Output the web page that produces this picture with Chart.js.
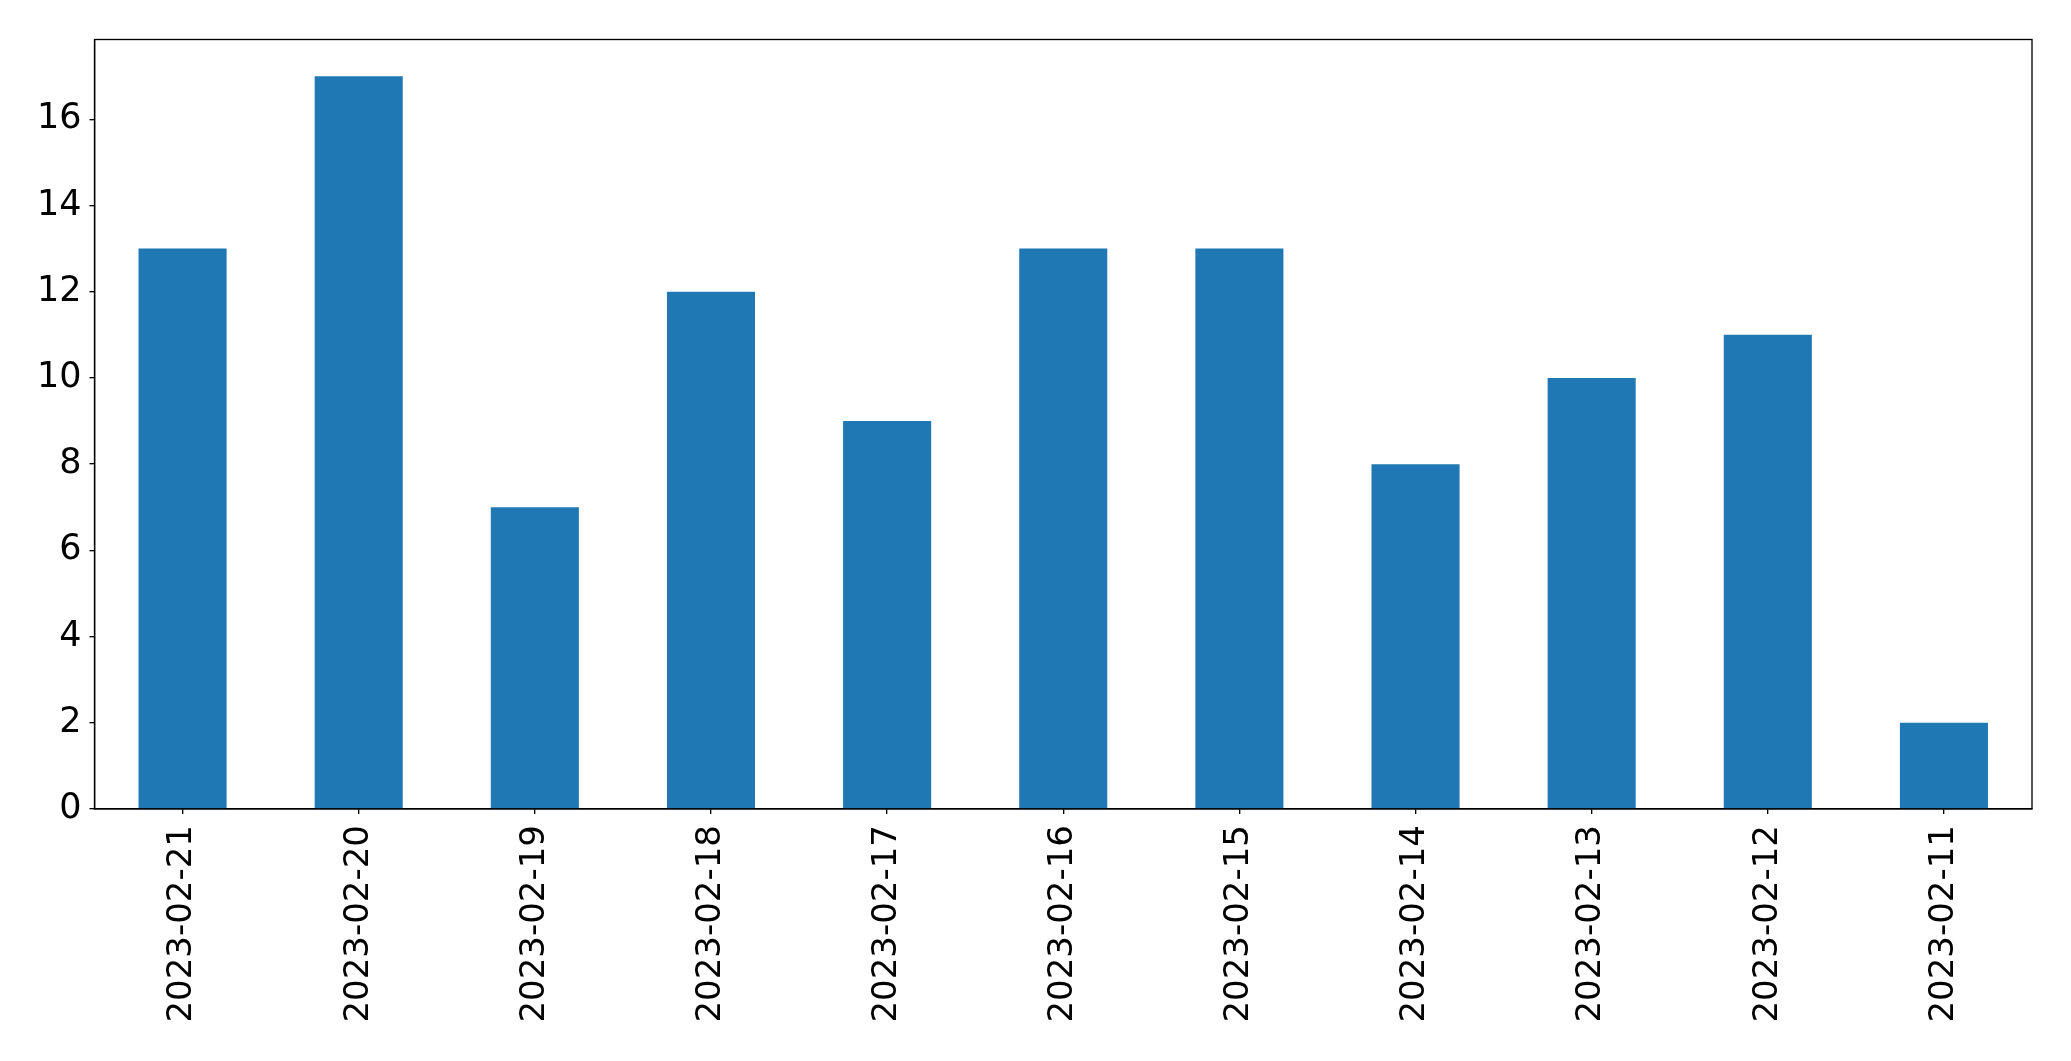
<!DOCTYPE html>
<html>
<head>
<meta charset="utf-8">
<script src="https://cdn.jsdelivr.net/npm/chart.js@4/dist/chart.umd.min.js"></script>
<style>
html,body{margin:0;padding:0;background:#fff;}
#wrap{width:2071px;height:1061px;position:relative;}
</style>
</head>
<body>
<div id="wrap"><canvas id="c" width="2071" height="1061"></canvas></div>
<script>
const categories = ["2023-02-21","2023-02-20","2023-02-19","2023-02-18","2023-02-17","2023-02-16","2023-02-15","2023-02-14","2023-02-13","2023-02-12","2023-02-11"];
const counts = [13, 17, 7, 12, 9, 13, 13, 8, 10, 11, 2];
const yTicks = [0, 2, 4, 6, 8, 10, 12, 14, 16];
const yMax = 17.85;

const frame = {
  id: 'frame',
  afterDatasetsDraw(chart) {
    const a = chart.chartArea, ctx = chart.ctx;
    ctx.save();
    ctx.strokeStyle = '#000';
    ctx.lineWidth = 1.33;
    ctx.strokeRect(a.left, a.top, a.right - a.left, a.bottom - a.top);
    ctx.restore();
  }
};

new Chart(document.getElementById('c'), {
  type: 'bar',
  data: {
    labels: categories,
    datasets: [{
      data: counts,
      backgroundColor: '#1f77b4',
      borderWidth: 0,
      categoryPercentage: 0.5,
      barPercentage: 1.0
    }]
  },
  options: {
    responsive: false,
    animation: false,
    events: [],
    layout: { padding: { top: 39.5, right: 39, left: 0, bottom: 0 } },
    plugins: { legend: { display: false }, tooltip: { enabled: false } },
    scales: {
      x: {
        offset: true,
        grid: { display: true, drawOnChartArea: false, drawTicks: true, tickLength: 5, color: '#000', lineWidth: 1.33, offset: false },
        border: { display: true, color: '#000', width: 1.33 },
        ticks: {
          minRotation: 90, maxRotation: 90, autoSkip: false,
          color: '#000', padding: 11,
          font: { family: 'DejaVu Sans', size: 34 }
        },
        afterFit(s) { s.height = 252; }
      },
      y: {
        min: 0, max: yMax,
        grid: { display: true, drawOnChartArea: false, drawTicks: true, tickLength: 5, color: '#000', lineWidth: 1.33 },
        border: { display: true, color: '#000', width: 1.33 },
        ticks: {
          color: '#000', padding: 8,
          font: { family: 'DejaVu Sans', size: 35 }
        },
        afterBuildTicks(s) { s.ticks = yTicks.map(v => ({ value: v })); },
        afterFit(s) { s.width = 94.5; }
      }
    }
  },
  plugins: [frame]
});
</script>
</body>
</html>
